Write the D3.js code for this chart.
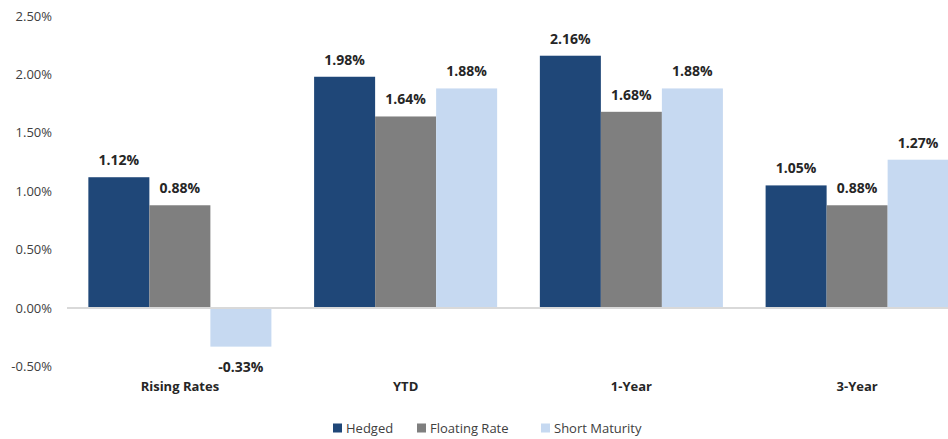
<!DOCTYPE html>
<html>
<head>
<meta charset="utf-8">
<script src="https://cdn.jsdelivr.net/npm/d3@7"></script>
<style>
  body { margin: 0; background: #fff; }
  svg { display: block; font-family: "Open Sans", sans-serif; }
</style>
</head>
<body>
<div id="chart"></div>
<script>
// data
let categories = ["Rising Rates", "YTD", "1-Year", "3-Year"];
let seriesNames = ["Hedged", "Floating Rate", "Short Maturity"];
let hedged = [1.12, 1.98, 2.16, 1.05];
let floating = [0.88, 1.64, 1.68, 0.88];
let shortMat = [-0.33, 1.88, 1.88, 1.27];
let yTicks = [-0.5, 0, 0.5, 1.0, 1.5, 2.0, 2.5];
let colors = ["#1f4778", "#7f7f7f", "#c6d9f1"];

let width = 948, height = 439;
let svg = d3.select("#chart").append("svg")
  .attr("width", width)
  .attr("height", height);

// hyphen instead of the unicode minus d3 uses
let pct = v => d3.format(".2f")(v).replace("\u2212", "-") + "%";

let values = [hedged, floating, shortMat];
let rows = [];
categories.forEach((c, i) => {
  seriesNames.forEach((s, j) => {
    rows.push({ cat: c, series: s, value: values[j][i], idx: j });
  });
});

// x extends past the right edge like the original crop
let x = d3.scaleBand().domain(categories).range([67, 970]).paddingInner(0).paddingOuter(0);
let x1 = d3.scaleBand().domain(seriesNames).range([0, x.bandwidth()]).paddingInner(0).paddingOuter(0.35);
let y = d3.scaleLinear().domain([-0.5, 2.5]).range([366.5, 16]);

// y axis labels
svg.append("g").selectAll("text")
  .data(yTicks)
  .enter().append("text")
  .attr("x", 52)
  .attr("y", d => y(d))
  .attr("dy", "0.35em")
  .attr("text-anchor", "end")
  .attr("font-size", 13)
  .attr("fill", "#404040")
  .text(d => pct(d));

// bars
svg.append("g").selectAll("rect")
  .data(rows)
  .enter().append("rect")
  .attr("x", d => x(d.cat) + x1(d.series))
  .attr("y", d => y(Math.max(0, d.value)))
  .attr("width", x1.bandwidth())
  .attr("height", d => Math.abs(y(d.value) - y(0)))
  .attr("fill", d => colors[d.idx]);

// zero line
svg.append("line")
  .attr("x1", 67).attr("x2", width)
  .attr("y1", y(0)).attr("y2", y(0))
  .attr("stroke", "#d9d9d9")
  .attr("stroke-width", 2);

// data labels
svg.append("g").selectAll("text")
  .data(rows)
  .enter().append("text")
  .attr("x", d => x(d.cat) + x1(d.series) + x1.bandwidth() / 2)
  .attr("y", d => d.value >= 0 ? y(d.value) - 12 : y(d.value) + 25)
  .attr("text-anchor", "middle")
  .attr("font-size", 14)
  .attr("font-weight", "bold")
  .attr("fill", "#262626")
  .text(d => pct(d.value));

// category labels
svg.append("g").selectAll("text")
  .data(categories)
  .enter().append("text")
  .attr("x", d => x(d) + x.bandwidth() / 2)
  .attr("y", 391)
  .attr("text-anchor", "middle")
  .attr("font-size", 13)
  .attr("font-weight", "bold")
  .attr("fill", "#262626")
  .text(d => d);

// legend
let legendX = [333, 417, 541];
let legend = svg.append("g").selectAll("g")
  .data(seriesNames)
  .enter().append("g")
  .attr("transform", (d, i) => `translate(${legendX[i]},428)`);
legend.append("rect")
  .attr("x", 0).attr("y", -4.5)
  .attr("width", 9).attr("height", 9)
  .attr("fill", (d, i) => colors[i]);
legend.append("text")
  .attr("x", 13)
  .attr("dy", "0.35em")
  .attr("font-size", 13)
  .attr("fill", "#404040")
  .text(d => d);
</script>
</body>
</html>
